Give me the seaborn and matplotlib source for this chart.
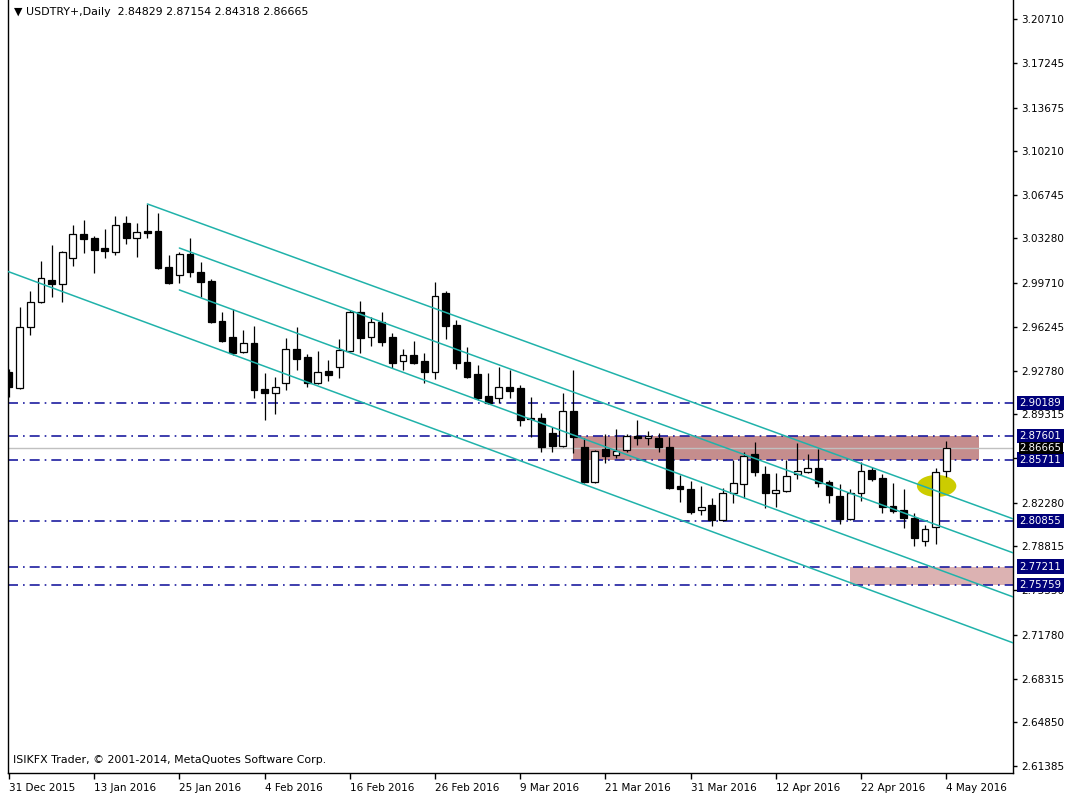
import numpy as np
import pandas as pd
import seaborn as sns
import matplotlib.pyplot as plt
from matplotlib.patches import Rectangle, Ellipse
from matplotlib.transforms import blended_transform_factory

# USDTRY+ daily candles, 31 Dec 2015 .. 4 May 2016
opens = [2.9267, 2.9140, 2.9625, 2.9823, 2.9998, 2.9966, 3.0173, 3.0363, 3.0332, 3.0252,
         3.0220, 3.0451, 3.0332, 3.0387, 3.0387, 3.0101, 3.0038, 3.0205, 3.0062, 2.9990,
         2.9672, 2.9545, 2.9426, 2.9498, 2.9132, 2.9100, 2.9180, 2.9450, 2.9386, 2.9180,
         2.9275, 2.9307, 2.9434, 2.9744, 2.9545, 2.9664, 2.9545, 2.9355, 2.9402, 2.9355,
         2.9267, 2.9895, 2.9641, 2.9347, 2.9251, 2.9077, 2.9061, 2.9148, 2.9140, 2.8902,
         2.8902, 2.8783, 2.8680, 2.8958, 2.8672, 2.8394, 2.8656, 2.8608, 2.8648, 2.8759,
         2.8743, 2.8743, 2.8672, 2.8362, 2.8338, 2.8171, 2.8211, 2.8092, 2.8306, 2.8378,
         2.8616, 2.8457, 2.8306, 2.8322, 2.8457, 2.8473, 2.8505, 2.8394, 2.8282, 2.8100,
         2.8306, 2.8489, 2.8425, 2.8203, 2.8171, 2.8108, 2.7925, 2.8036, 2.84829]
highs = [2.9291, 2.9784, 2.9911, 3.0149, 3.0276, 3.0228, 3.0435, 3.0475, 3.0348, 3.0403,
         3.0506, 3.0506, 3.0451, 3.0602, 3.0530, 3.0197, 3.0220, 3.0332, 3.0141, 3.0006,
         2.9744, 2.9768, 2.9601, 2.9633, 2.9259, 2.9228, 2.9537, 2.9625, 2.9410, 2.9434,
         2.9363, 2.9529, 2.9760, 2.9831, 2.9704, 2.9744, 2.9577, 2.9450, 2.9514, 2.9418,
         2.9982, 2.9911, 2.9680, 2.9466, 2.9323, 2.9259, 2.9307, 2.9283, 2.9164, 2.9069,
         2.8942, 2.8830, 2.9100, 2.9283, 2.8743, 2.8648, 2.8775, 2.8815, 2.8775, 2.8886,
         2.8799, 2.8783, 2.8751, 2.8449, 2.8401, 2.8362, 2.8266, 2.8346, 2.8568, 2.8632,
         2.8711, 2.8521, 2.8465, 2.8568, 2.8703, 2.8616, 2.8656, 2.8409, 2.8378, 2.8338,
         2.8552, 2.8513, 2.8457, 2.8386, 2.8338, 2.8147, 2.8052, 2.8505, 2.87154]
lows = [2.9069, 2.9132, 2.9561, 2.9815, 2.9863, 2.9823, 3.0109, 3.0213, 3.0054, 3.0173,
        3.0197, 3.0284, 3.0181, 3.0332, 3.0085, 2.9966, 2.9974, 3.0022, 2.9863, 2.9656,
        2.9506, 2.9402, 2.9418, 2.9061, 2.8886, 2.8934, 2.9124, 2.9283, 2.9148, 2.9172,
        2.9196, 2.9220, 2.9426, 2.9418, 2.9474, 2.9474, 2.9299, 2.9283, 2.9331, 2.9180,
        2.9212, 2.9529, 2.9291, 2.9220, 2.9045, 2.9013, 2.9021, 2.9061, 2.8838, 2.8751,
        2.8632, 2.8632, 2.8672, 2.8624, 2.8386, 2.8386, 2.8545, 2.8584, 2.8632, 2.8687,
        2.8687, 2.8632, 2.8338, 2.8235, 2.8139, 2.8131, 2.8044, 2.8084, 2.8227, 2.8266,
        2.8441, 2.8187, 2.8195, 2.8314, 2.8417, 2.8465, 2.8354, 2.8227, 2.8060, 2.8092,
        2.8243, 2.8401, 2.8147, 2.8147, 2.8028, 2.7885, 2.7885, 2.7901, 2.84318]
closes = [2.9148, 2.9625, 2.9823, 3.0014, 2.9966, 3.0220, 3.0363, 3.0324, 3.0236, 3.0228,
          3.0435, 3.0332, 3.0379, 3.0371, 3.0093, 2.9974, 3.0205, 3.0062, 2.9982, 2.9664,
          2.9514, 2.9418, 2.9498, 2.9124, 2.9100, 2.9148, 2.9450, 2.9370, 2.9180, 2.9267,
          2.9243, 2.9442, 2.9744, 2.9537, 2.9664, 2.9506, 2.9339, 2.9402, 2.9339, 2.9267,
          2.9871, 2.9633, 2.9339, 2.9228, 2.9061, 2.9021, 2.9148, 2.9116, 2.8886, 2.8894,
          2.8672, 2.8680, 2.8958, 2.8751, 2.8394, 2.8640, 2.8600, 2.8640, 2.8759, 2.8743,
          2.8759, 2.8672, 2.8346, 2.8338, 2.8155, 2.8195, 2.8092, 2.8306, 2.8386, 2.8600,
          2.8473, 2.8306, 2.8330, 2.8441, 2.8481, 2.8505, 2.8386, 2.8290, 2.8100, 2.8306,
          2.8481, 2.8417, 2.8195, 2.8163, 2.8108, 2.7949, 2.8020, 2.8473, 2.86665]

date_labels = ['31 Dec 2015', '13 Jan 2016', '25 Jan 2016', '4 Feb 2016', '16 Feb 2016',
               '26 Feb 2016', '9 Mar 2016', '21 Mar 2016', '31 Mar 2016', '12 Apr 2016',
               '22 Apr 2016', '4 May 2016']
price_ticks = [3.20710, 3.17245, 3.13675, 3.10210, 3.06745, 3.03280, 2.99710, 2.96245,
               2.92780, 2.89315, 2.85850, 2.82280, 2.78815, 2.75350, 2.71780, 2.68315,
               2.64850, 2.61385]

levels = [2.90189, 2.87601, 2.85711, 2.80855, 2.77211, 2.75759]
bid = 2.86665

# channel lines: bar / price at start and end
chan_bar = [[13, 94.3], [16, 94.3], [16, 94.3], [-1, 94.3]]
chan_price = [[3.0602, 2.8100], [3.0252, 2.7830], [2.9919, 2.7480], [3.0094, 2.7115]]

# support / resistance zones
zone_bar = [[53, 91.1], [79, 100]]
zone_price = [[2.85711, 2.87601], [2.75759, 2.77211]]
zone_color = ['#c58d8d', '#dcb2b2']

sns.set_theme(style='white')
plt.rcParams['font.family'] = ['DejaVu Sans']

fig = plt.figure(figsize=(10.68, 7.98), dpi=100)
ax = fig.add_axes([8 / 1068, 25 / 798, 1005 / 1068, 773 / 798])

x = np.arange(len(opens))
o = np.array(opens); c = np.array(closes)
bull = c >= o

# zones (background)
for (b0, b1), (p0, p1), col in zip(zone_bar, zone_price, zone_color):
    ax.add_patch(Rectangle((b0, p0), b1 - b0, p1 - p0, facecolor=col, edgecolor='none', zorder=1))

ax.axhline(bid, color='#c0c0c0', lw=1, zorder=1.5)
for lv in levels:
    ax.axhline(lv, color='#1c1ca0', lw=1.2, dashes=(6, 3, 1, 3), zorder=2)

ax.add_patch(Ellipse((87.1, 2.8362), 3.7, 0.0175, facecolor='#cccc00', edgecolor='none', zorder=2.5))

# candles
ax.vlines(x, lows, highs, color='black', lw=0.9, zorder=3)
ax.bar(x, np.abs(c - o), bottom=np.minimum(o, c), width=0.64,
       color=np.where(bull, 'white', 'black'), edgecolor='black', linewidth=0.9, zorder=3.2)

# channel
chan = pd.DataFrame({
    'line': np.repeat(np.arange(len(chan_bar)), 2),
    'bar': np.ravel(chan_bar),
    'price': np.ravel(chan_price),
})
sns.lineplot(data=chan, x='bar', y='price', units='line', estimator=None,
             color='#20b2aa', lw=1.1, ax=ax, zorder=4, legend=False)

ax.set_xlim(-0.09, 94.27)
ax.set_ylim(2.6082, 3.2222)
ax.set_xlabel('')
ax.set_ylabel('')

for s in ['left', 'right', 'bottom']:
    ax.spines[s].set_visible(True)
    ax.spines[s].set_color('black')
    ax.spines[s].set_linewidth(1)
ax.spines['top'].set_visible(False)

ax.yaxis.tick_right()
ax.set_yticks(price_ticks)
ax.set_yticklabels([f'{p:.5f}' for p in price_ticks])
ax.set_xticks(np.arange(0, 89, 8))
ax.set_xticklabels(date_labels, ha='left')
ax.tick_params(axis='y', right=True, left=False, direction='out', length=3, width=1,
               pad=3, labelsize=7.5, colors='black')
ax.tick_params(axis='x', bottom=True, direction='out', length=4, width=1,
               pad=3, labelsize=7.5, colors='black')

# price tags on the right scale
tr = blended_transform_factory(ax.transAxes, ax.transData)
for lv in levels:
    ax.text(1.0065, lv, f'{lv:.5f}', transform=tr, color='white', fontsize=7.3,
            va='center', ha='left', clip_on=False, zorder=10,
            bbox=dict(boxstyle='square,pad=0.22', fc='#00007a', ec='none'))
ax.text(1.0065, bid, f'{bid:.5f}', transform=tr, color='white', fontsize=7.3,
        va='center', ha='left', clip_on=False, zorder=11,
        bbox=dict(boxstyle='square,pad=0.1', fc='black', ec='none'))

fig.text(14 / 1068, 1 - 12 / 798, '▼ USDTRY+,Daily  2.84829 2.87154 2.84318 2.86665',
         fontsize=7.9, va='center', ha='left', color='black')
fig.text(13 / 1068, 1 - 760 / 798, 'ISIKFX Trader, © 2001-2014, MetaQuotes Software Corp.',
         fontsize=7.9, va='center', ha='left', color='black')

fig.savefig('out.png', dpi=100)
